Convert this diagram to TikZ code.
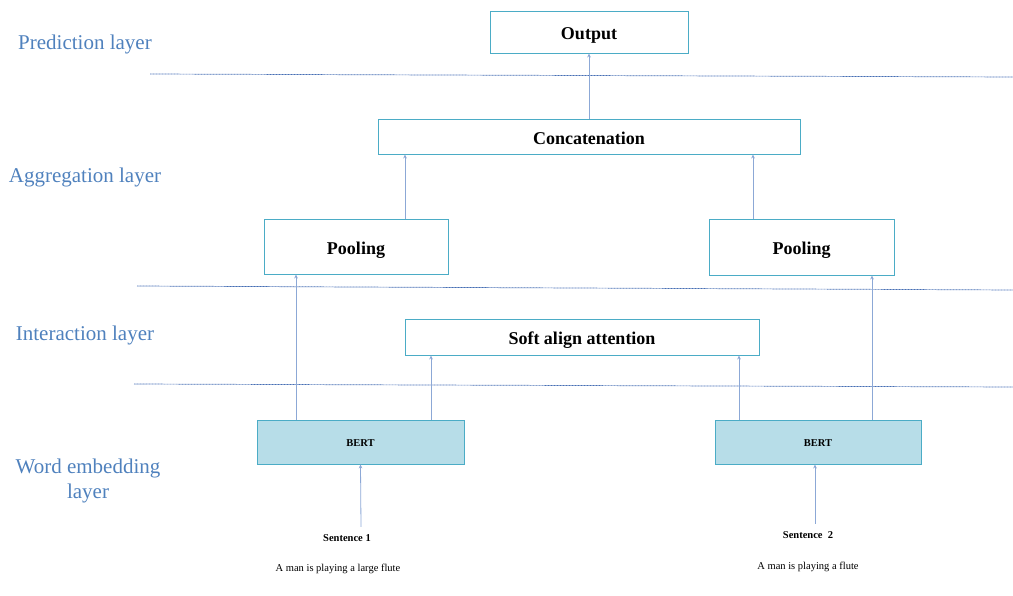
\documentclass[tikz,border=0pt]{standalone}
\usepackage{fontspec}
\setmainfont{Liberation Serif}
\usetikzlibrary{arrows.meta}
\definecolor{layerblue}{RGB}{79,129,189}
\definecolor{boxline}{RGB}{75,172,198}
\definecolor{bertfill}{RGB}{183,221,232}
\definecolor{arrowcol}{RGB}{140,168,214}
\definecolor{sepcol}{RGB}{70,110,180}
\tikzset{
  layer/.style={text=layerblue, font=\fontsize{21}{25}\selectfont, align=center},
  block/.style={draw=boxline, line width=0.9pt, fill=white, inner sep=0pt,
    text height=15.5pt, text depth=0pt, font=\fontsize{18}{20}\selectfont\bfseries},
  bert/.style={block, fill=bertfill, text height=8pt, font=\fontsize{10.5}{12}\selectfont\bfseries},
  sep/.style={draw=sepcol, line width=0.7pt, dash pattern=on 1pt off 0.5pt},
  feed/.style={draw=arrowcol, line width=0.8pt, -{Stealth[length=4pt,width=3.6pt]}}
}
\begin{document}
\begin{tikzpicture}[x=1pt, y=-1pt]
  \useasboundingbox (0,0) rectangle (1013,596);
  % layer names
  \node[layer] (lpred) at (85,44) {Prediction layer};
  \node[layer] (lagg) at (85,177) {Aggregation layer};
  \node[layer] (linter) at (85,335) {Interaction layer};
  \node[layer] (lword) at (88,481) {Word embedding\\layer};
  % separators
  \draw[sep] (150,74) -- (1013,77);
  \draw[sep] (137,286) -- (1013,290);
  \draw[sep] (134,384) -- (1013,387);
  % blocks
  \node[block, minimum width=198pt, minimum height=42pt] (out) at (589,32) {Output};
  \node[block, minimum width=422pt, minimum height=35pt] (concat) at (589,136.5) {Concatenation};
  \node[block, minimum width=184pt, minimum height=55pt] (poolL) at (356,246.5) {Pooling};
  \node[block, minimum width=185pt, minimum height=56pt] (poolR) at (801.5,247) {Pooling};
  \node[block, minimum width=354pt, minimum height=36pt] (soft) at (582,337) {Soft align attention};
  \node[bert, minimum width=207pt, minimum height=44pt] (bertL) at (360.5,442) {BERT};
  \node[bert, minimum width=206pt, minimum height=44pt] (bertR) at (818,442) {BERT};
  % inputs
  \node[font=\fontsize{10.5}{12}\selectfont\bfseries] (sentL) at (347,538) {Sentence 1};
  \node[font=\fontsize{10.5}{12}\selectfont] (textL) at (338,569) {A man is playing a large flute};
  \node[font=\fontsize{10.5}{12}\selectfont\bfseries] (sentR) at (808,535) {Sentence\ \ 2};
  \node[font=\fontsize{10.5}{12}\selectfont] (textR) at (808,567) {A man is playing a flute};
  \begin{scope}[feed]
    \draw (concat.north) to (out.south);
    \draw ([xshift=49pt]poolL.north) to ([xshift=-184pt]concat.south);
    \draw ([xshift=-48.5pt]poolR.north) to ([xshift=164pt]concat.south);
    \draw ([xshift=-64.5pt]bertL.north) to ([xshift=-60pt]poolL.south);
    \draw ([xshift=70.5pt]bertL.north) to ([xshift=-151pt]soft.south);
    \draw ([xshift=-79pt]bertR.north) to ([xshift=157pt]soft.south);
    \draw ([xshift=54pt]bertR.north) to ([xshift=70.5pt]poolR.south);
    \draw ([xshift=14pt,yshift=4pt]sentL.north) to (bertL.south);
    \draw ([xshift=7pt,yshift=4pt]sentR.north) to ([xshift=-3pt]bertR.south);
  \end{scope}
\end{tikzpicture}
\end{document}
